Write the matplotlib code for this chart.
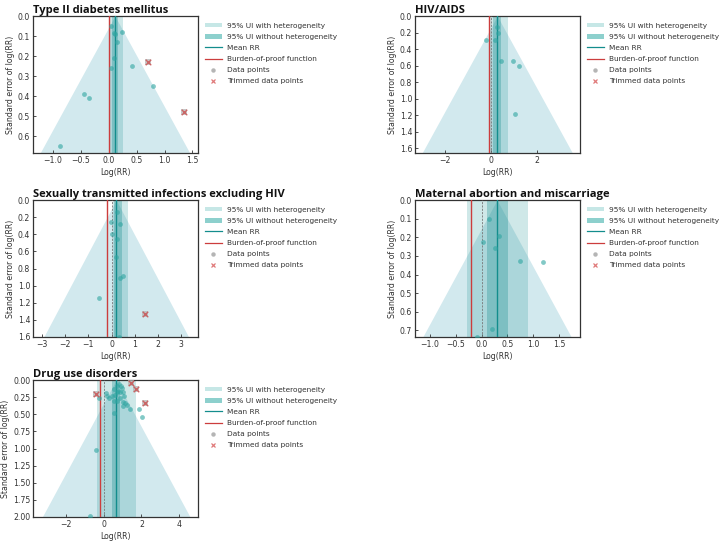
import matplotlib
matplotlib.use("Agg")
import matplotlib.pyplot as plt
from matplotlib.patches import Patch
from matplotlib.lines import Line2D
import numpy as np

# ---------------- data ----------------
titles = ["Type II diabetes mellitus", "HIV/AIDS",
          "Sexually transmitted infections excluding HIV",
          "Maternal abortion and miscarriage", "Drug use disorders"]

# Panel 1: Type II diabetes mellitus
t2d_x = [0.04, 0.24, 0.09, 0.11, 0.14, 0.10, 0.41, 0.04, 0.79, -0.45, -0.35, -0.87]
t2d_se = [0.05, 0.08, 0.085, 0.09, 0.13, 0.21, 0.25, 0.26, 0.35, 0.39, 0.41, 0.65]
t2d_trim_x = [0.70, 1.34]
t2d_trim_se = [0.23, 0.48]
t2d_mean, t2d_bop = 0.11, -0.005
t2d_with, t2d_without = (0.01, 0.25), (0.06, 0.17)

# Panel 2: HIV/AIDS
hiv_x = [0.25, 0.33, -0.19, 0.17, 0.46, 0.97, 1.20, 1.04]
hiv_se = [0.13, 0.20, 0.29, 0.29, 0.54, 0.54, 0.61, 1.19]
hiv_trim_x = []
hiv_trim_se = []
hiv_mean, hiv_bop = 0.28, -0.07
hiv_with, hiv_without = (-0.03, 0.73), (0.10, 0.46)

# Panel 3: STI excluding HIV
sti_x = [0.23, -0.04, 0.36, 0.00, 0.24, 0.21, 0.50, 0.36, -0.53, 0.32]
sti_se = [0.145, 0.26, 0.28, 0.40, 0.45, 0.67, 0.89, 0.91, 1.14, 1.60]
sti_trim_x = [1.43]
sti_trim_se = [1.335]
sti_mean, sti_bop = 0.20, -0.21
sti_with, sti_without = (0.05, 0.72), (0.12, 0.44)

# Panel 4: Maternal abortion and miscarriage
mam_x = [0.15, 0.34, 0.035, 0.26, 0.75, 1.20, 0.21, -0.09]
mam_se = [0.104, 0.194, 0.224, 0.256, 0.328, 0.333, 0.693, 0.735]
mam_trim_x = []
mam_trim_se = []
mam_mean, mam_bop = 0.30, -0.20
mam_with, mam_without = (-0.29, 0.90), (0.11, 0.51)

# Panel 5: Drug use disorders
dud_x = [-0.26, 0.12, 0.19, 0.42, 0.54, 0.73, 0.56, 0.68, 0.80, 0.91, 0.68, 0.85,
         1.04, 1.10, 1.03, 1.15, 1.38, 0.56, 1.87, 2.01, -0.40, -0.72,
         0.95, 0.75, 0.62, 1.25, 1.00, 0.30, 0.85]
dud_se = [0.27, 0.195, 0.24, 0.23, 0.30, 0.30, 0.13, 0.09, 0.06, 0.09, 0.17, 0.18,
          0.18, 0.24, 0.32, 0.34, 0.43, 0.48, 0.42, 0.54, 1.02, 1.99,
          0.12, 0.16, 0.22, 0.36, 0.38, 0.27, 0.27]
dud_trim_x = [-0.40, 1.47, 1.70, 2.17]
dud_trim_se = [0.20, 0.05, 0.13, 0.33]
dud_mean, dud_bop = 0.66, -0.19
dud_with, dud_without = (-0.35, 1.70), (0.45, 0.87)

panels = [
    dict(x=t2d_x, se=t2d_se, tx=t2d_trim_x, tse=t2d_trim_se, mean=t2d_mean, bop=t2d_bop,
         w=t2d_with, wo=t2d_without, xlim=(-1.36, 1.60), ylim=(0.685, 0),
         xt=[-1.0, -0.5, 0.0, 0.5, 1.0, 1.5], yt=[0.0, 0.1, 0.2, 0.3, 0.4, 0.5, 0.6], yfmt="{:.1f}"),
    dict(x=hiv_x, se=hiv_se, tx=hiv_trim_x, tse=hiv_trim_se, mean=hiv_mean, bop=hiv_bop,
         w=hiv_with, wo=hiv_without, xlim=(-3.28, 3.86), ylim=(1.66, 0),
         xt=[-2, 0, 2], yt=[0.0, 0.2, 0.4, 0.6, 0.8, 1.0, 1.2, 1.4, 1.6], yfmt="{:.1f}"),
    dict(x=sti_x, se=sti_se, tx=sti_trim_x, tse=sti_trim_se, mean=sti_mean, bop=sti_bop,
         w=sti_with, wo=sti_without, xlim=(-3.4, 3.74), ylim=(1.6, 0),
         xt=[-3, -2, -1, 0, 1, 2, 3], yt=[0.0, 0.2, 0.4, 0.6, 0.8, 1.0, 1.2, 1.4, 1.6], yfmt="{:.1f}"),
    dict(x=mam_x, se=mam_se, tx=mam_trim_x, tse=mam_trim_se, mean=mam_mean, bop=mam_bop,
         w=mam_with, wo=mam_without, xlim=(-1.29, 1.91), ylim=(0.735, 0),
         xt=[-1.0, -0.5, 0.0, 0.5, 1.0, 1.5], yt=[0.0, 0.1, 0.2, 0.3, 0.4, 0.5, 0.6, 0.7], yfmt="{:.1f}"),
    dict(x=dud_x, se=dud_se, tx=dud_trim_x, tse=dud_trim_se, mean=dud_mean, bop=dud_bop,
         w=dud_with, wo=dud_without, xlim=(-3.75, 5.0), ylim=(2.0, 0),
         xt=[-2, 0, 2, 4], yt=[0.0, 0.25, 0.5, 0.75, 1.0, 1.25, 1.5, 1.75, 2.0], yfmt="{:.2f}"),
]

# ---------------- style ----------------
W, H = 722, 541
fig = plt.figure(figsize=(W / 100, H / 100), dpi=100)
plt.rcParams['font.family'] = ['DejaVu Sans']

TEAL = "#138d8d"
FUNNEL = "#d2e9ee"
WITH_C = "#c6e7e6"
WITHOUT_C = "#8dd0cd"
RED = "#cc3d3d"
PT = "#2fa5a1"
GREY = "#b5b5b5"
TXT = "#333333"
FS = 5.6
LFS = 5.3

# axes boxes in pixels: (left, top, right, bottom)
boxes = [(33, 16, 198, 153), (415, 16, 580, 153),
         (33, 200, 198, 337), (415, 200, 580, 337),
         (33, 380, 198, 517)]

for p, title, (l, t, r, b) in zip(panels, titles, boxes):
    ax = fig.add_axes([l / W, 1 - b / H, (r - l) / W, (b - t) / H])
    ymax = p["ylim"][0]
    yy = np.linspace(0, ymax * 1.05, 50)
    ax.fill_betweenx(yy, p["mean"] - 1.96 * yy, p["mean"] + 1.96 * yy,
                     color=FUNNEL, lw=0, zorder=1)
    ax.axvspan(p["w"][0], p["w"][1], color=TEAL, alpha=0.2, lw=0, zorder=2)
    ax.axvspan(p["wo"][0], p["wo"][1], color=TEAL, alpha=0.3, lw=0, zorder=2)
    ax.axvline(0, color="#777777", ls="--", lw=0.6, dashes=(2.5, 1.5), zorder=3)
    ax.axvline(p["mean"], color=TEAL, lw=1.0, zorder=4)
    ax.axvline(p["bop"], color=RED, lw=1.0, zorder=4)
    ax.scatter(p["x"], p["se"], s=12, color=PT, alpha=0.6, lw=0, zorder=5)
    if len(p["tx"]):
        ax.scatter(p["tx"], p["tse"], s=16, marker="s", color=GREY, alpha=0.75, lw=0, zorder=5)
        ax.scatter(p["tx"], p["tse"], s=16, marker="x", color=RED, alpha=0.7, lw=1.0, zorder=6)
    ax.set_xlim(*p["xlim"])
    ax.set_ylim(*p["ylim"])
    ax.set_xticks(p["xt"])
    ax.set_yticks(p["yt"])
    ax.set_yticklabels([p["yfmt"].format(v) for v in p["yt"]])
    ax.tick_params(direction="in", length=2.5, width=0.6, labelsize=FS, colors=TXT, pad=2)
    for s in ax.spines.values():
        s.set_color("#333333")
        s.set_linewidth(0.9)
    ax.set_xlabel("Log(RR)", fontsize=FS, color=TXT, labelpad=2)
    ax.set_ylabel("Standard error of log(RR)", fontsize=FS, color=TXT, labelpad=2)
    ax.set_title(title, loc="left", fontsize=8.0, fontweight="bold", family="Open Sans",
                 color="#111111", pad=2)
    handles = [Patch(facecolor=WITH_C, edgecolor="none"),
               Patch(facecolor=WITHOUT_C, edgecolor="none"),
               Line2D([], [], color=TEAL, lw=0.9),
               Line2D([], [], color=RED, lw=0.9),
               Line2D([], [], ls="", marker="o", ms=3.2, color=GREY, mec="none"),
               Line2D([], [], ls="", marker="x", ms=3.5, color="#e07a7a", mew=0.9)]
    labels = ["95% UI with heterogeneity", "95% UI without heterogeneity", "Mean RR",
              "Burden-of-proof function", "Data points", "Trimmed data points"]
    leg = ax.legend(handles, labels, loc="upper left", bbox_to_anchor=(1.0, 1.0),
                    frameon=False, fontsize=LFS, labelspacing=0.7, handlelength=2.3,
                    handleheight=0.6, handletextpad=0.7, borderaxespad=0.4,
                    borderpad=0.5)
    for txt in leg.get_texts():
        txt.set_color(TXT)

fig.savefig("out.png", dpi=100)
